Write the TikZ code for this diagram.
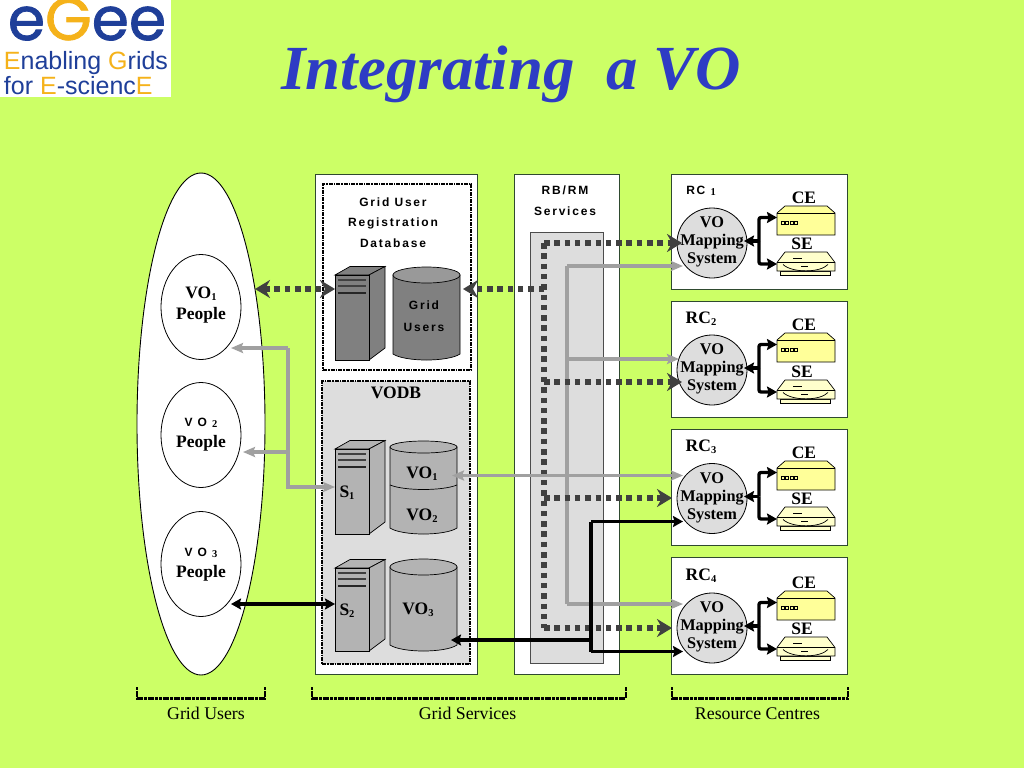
\documentclass[tikz,border=0pt]{standalone}
\usepackage{fontspec}
\setmainfont{Liberation Serif}
\newfontfamily\spc[LetterSpace=15]{Liberation Sans}
\newfontfamily\logo[FakeBold=1.3]{Poppins}
\newfontfamily\lsans{Liberation Sans}
\usetikzlibrary{arrows.meta,shapes.geometric}
\definecolor{bgc}{HTML}{CCFF66}
\definecolor{titlec}{HTML}{2E3CC4}
\definecolor{boxedge}{HTML}{2F4A2F}
\definecolor{panel}{HTML}{DDDDDD}
\definecolor{darkd}{HTML}{404040}
\definecolor{grayl}{HTML}{A0A0A0}
\definecolor{darkf}{HTML}{808080}
\definecolor{lightf}{HTML}{B3B3B3}
\definecolor{logob}{HTML}{1F3F99}
\definecolor{logoo}{HTML}{F5B21A}
\definecolor{cef}{HTML}{FFFF99}
\definecolor{sef}{HTML}{FFFFCC}
\newcommand{\sbb}[1]{\raisebox{-0.25ex}{\fontsize{10.5}{10.5}\selectfont #1}}
\tikzset{
  x=1pt,y=-1pt,
  txt/.style={inner sep=0pt,outer sep=0pt,align=center},
  bt/.style={txt,font=\fontsize{17.5}{21}\selectfont\bfseries},
  st/.style={txt,font=\fontsize{12}{14}\selectfont\spc\bfseries},
  ct/.style={txt,font=\fontsize{17.8}{20}\selectfont},
  mapt/.style={txt,font=\fontsize{16.3}{18}\selectfont\bfseries},
  outer/.style={draw=boxedge,fill=white,line width=0.9pt},
  dotbox/.style={draw=black,line width=2.2pt,dash pattern=on 4pt off 1pt on 1.5pt off 1pt},
  thin edge/.style={draw=black,line width=0.7pt},
  darktip/.tip={Stealth[length=15pt,width=18pt,inset=5pt]},
  graytip/.tip={Stealth[length=12pt,width=10pt,inset=2pt]},
  blacktip/.tip={Stealth[length=10pt,width=11pt,inset=1.5pt]},
  dashl/.style={draw=darkd,line width=5.5pt,dash pattern=on 5.5pt off 4.8pt},
  grayw/.style={draw=grayl,line width=3.5pt},
  blackw/.style={draw=black,line width=3.3pt},
}
% name, x, y (front top-left), fill
\newcommand{\serverbox}[5]{%
  \fill[#4,thin edge] (#2,#3) -- (#2+15,#3-8.5) -- (#2+50,#3-8.5) -- (#2+34,#3) -- cycle;
  \fill[#4,thin edge] (#2+34,#3) -- (#2+50,#3-8.5) -- (#2+50,#3+#5-12) -- (#2+34,#3+#5) -- cycle;
  \node[thin edge,fill=#4,minimum width=34pt,minimum height=#5 pt,inner sep=0pt,outer sep=0pt,anchor=north west] (#1) at (#2,#3) {};
  \fill[black!75] (#2+3,#3+4) rectangle (#2+31,#3+6);
  \fill[black!75] (#2+3,#3+10) rectangle (#2+31,#3+12);
  \fill[black!85] (#2+3,#3+17) rectangle (#2+31,#3+19);
}
% left, right, top centre y, bottom y, ry, fill, top fill
\newcommand{\cylshape}[7]{%
  \path[thin edge,fill=#6] (#1,#3) -- (#1,#4-6) .. controls (#1+12,#4+2) and (#2-12,#4+2) .. (#2,#4-6) -- (#2,#3) -- cycle;
  \path[thin edge,fill=#7] ({(#1+#2)/2},#3) ellipse [x radius={(#2-#1)/2},y radius=#5];
}
% id, box top, box bottom, circle y, CE top, SE top
\newcommand{\rcunit}[6]{%
  \node[outer,minimum width=176pt,minimum height={#3-#2},inner sep=0pt,outer sep=0pt,anchor=north west] (rc#1) at (671,#2) {};
  \node[circle,draw=black,line width=0.8pt,fill=panel,minimum size=70pt,inner sep=0pt,outer sep=0pt] (map#1) at (712,#4) {};
  \node[mapt] (mapt#1) at (712,#4-1) {VO\\Mapping\\System};
  % CE
  \path[thin edge,fill=cef] (785,#5) -- (827,#5) -- (835,#5+7) -- (835,#5+29) -- (777,#5+29) -- (777,#5+7) -- cycle;
  \draw[line width=0.7pt] (777,#5+7) -- (835,#5+7);
  \foreach \k in {0,1,2,3} {\draw[line width=0.7pt,fill=cef] (781.5+\k*4.2,#5+15.5) rectangle +(3,3);}
  \node[bt,font=\fontsize{17.5}{18}\selectfont\bfseries] (ce#1) at (804,#5-8) {CE};
  % SE
  \path[thin edge,fill=sef] (780,#6+19) rectangle (830,#6+23);
  \path[thin edge,fill=sef] (785,#6) -- (827,#6) -- (835,#6+10.5) -- (835,#6+19) -- (777,#6+19) -- (777,#6+10.5) -- cycle;
  \draw[line width=0.7pt] (777,#6+10.5) -- (835,#6+10.5);
  \draw[line width=0.7pt] (783,#6+12.5) .. controls (792,#6+21) and (820,#6+21) .. (828,#6+12.5);
  \draw[line width=1.4pt] (801,#6+14.5) -- (808,#6+14.5);
  \draw[line width=0.5pt] (793,#6+6) -- (802,#6+6);
  \node[bt,font=\fontsize{17.5}{18}\selectfont\bfseries] (se#1) at (802,#6-8) {SE};
  % links
  \coordinate (j#1) at (759,#4-2);
  \coordinate (cep#1) at (777,#5+11.5);
  \coordinate (sep#1) at (777,#6+12);
  \coordinate (mapin#1) at (744,#4-2);
  \draw[blackw,-{blacktip}] (j#1) -- (mapin#1);
  \draw[blackw,-{blacktip},rounded corners=2pt] (j#1) |- (cep#1);
  \draw[blackw,-{blacktip},rounded corners=2pt] (j#1) |- (sep#1);
}
\begin{document}
\begin{tikzpicture}
\useasboundingbox (0,0) rectangle (1024,768);
\fill[bgc] (0,0) rectangle (1024,768);
% logo
\fill[white] (0,0) rectangle (171,97);
\node[txt,font=\fontsize{60}{60}\selectfont\logo,text=logob,anchor=base] (legee) at (87,40) {e\textcolor{logoo}{G}ee};
\node[txt,font=\fontsize{25}{25}\selectfont\lsans,text=logob,anchor=base west] (l1) at (4,70) {\textcolor{logoo}{E}nabling \textcolor{logoo}{G}rids};
\node[txt,font=\fontsize{25}{25}\selectfont\lsans,text=logob,anchor=base west] (l2) at (4,94) {for \textcolor{logoo}{E}-scienc\textcolor{logoo}{E}};
% title
\node[txt,font=\fontsize{62.8}{62.8}\selectfont\bfseries\itshape,text=titlec] (title) at (511,74.5) {Integrating\ \ a VO};
% grid users
\node[ellipse,draw=black,line width=0.9pt,fill=white,minimum width=128pt,minimum height=502pt,inner sep=0pt,outer sep=0pt] (users) at (201,424) {};
\foreach \n/\y in {1/307,2/435,3/564} {\node[ellipse,draw=black,line width=0.8pt,fill=white,minimum width=80pt,minimum height=105pt,inner sep=0pt,outer sep=0pt] (p\n) at (201,\y) {};}
\node[bt] (vo1p) at (201,305.5) {VO\sbb{1}\\People};
\node[txt,font=\fontsize{12}{14}\selectfont\spc\bfseries] (vo2l) at (201,423) {V O \sbb{\rmfamily 2}};
\node[bt] (vo2p) at (201,443.5) {People};
\node[txt,font=\fontsize{12}{14}\selectfont\spc\bfseries] (vo3l) at (201,553) {V O \sbb{\rmfamily 3}};
\node[bt] (vo3p) at (201,573.5) {People};
% grid services
\node[outer,minimum width=162pt,minimum height=500pt,inner sep=0pt,outer sep=0pt,anchor=north west] (gs) at (315,174) {};
\node[dotbox,fill=white,minimum width=148pt,minimum height=186pt,inner sep=0pt,outer sep=0pt,anchor=north west] (gur) at (323,184) {};
\node[dotbox,fill=panel,minimum width=148pt,minimum height=283pt,inner sep=0pt,outer sep=0pt,anchor=north west] (vodb) at (322,381) {};
\node[st] (gurt) at (393,222.5) {Grid User\\[6.5pt]Registration\\[6.5pt]Database};
\node[bt] (vodbt) at (396,392.5) {VODB};
\serverbox{srvg}{335}{275}{darkf}{85}
\cylshape{393}{460}{275}{360}{8}{darkf}{black!40}
\node[st] (gut) at (424,316) {Grid\\[8pt]Users};
\serverbox{srva}{335}{449}{lightf}{85}
\cylshape{390}{457}{447}{534}{6}{lightf}{lightf}
\draw[line width=0.7pt] (390,485) .. controls (405,491) and (442,491) .. (457,485);
\node[bt] (s1) at (347,492.5) {S\sbb{1}};
\node[bt] (vo1) at (422,474) {VO\sbb{1}};
\node[bt] (vo2) at (422,516) {VO\sbb{2}};
\serverbox{srvb}{335}{568}{lightf}{83}
\cylshape{390}{457}{567}{651}{8}{lightf}{lightf}
\node[bt] (s2) at (347,610.5) {S\sbb{2}};
\node[bt] (vo3) at (418,610) {VO\sbb{3}};
% RB/RM
\node[outer,minimum width=105pt,minimum height=500pt,inner sep=0pt,outer sep=0pt,anchor=north west] (rb) at (514,174) {};
\node[draw=black!70,line width=0.7pt,fill=panel,minimum width=73pt,minimum height=431pt,inner sep=0pt,outer sep=0pt,anchor=north west] (rbi) at (530,232) {};
\node[st] (rbt) at (565,200.5) {RB/RM\\[6.5pt]Services};
% resource centres
\rcunit{1}{174}{289}{243}{206}{252}
\rcunit{2}{301}{417}{370}{333}{380}
\rcunit{3}{429}{545}{498.5}{461}{507}
\rcunit{4}{557}{674}{628}{591}{637}
\node[st] (rc1t) at (701,191) {RC \sbb{\rmfamily 1}};
\node[bt] (rc2t) at (701,319) {RC\sbb{2}};
\node[bt] (rc3t) at (701,447) {RC\sbb{3}};
\node[bt] (rc4t) at (701,576) {RC\sbb{4}};
% ports
\coordinate (ug) at (255,289);
\coordinate (sg) at (335,289);
\coordinate (gu) at (463,289);
\coordinate (d0) at (544,243);
\coordinate (d1) at (544,289);
\coordinate (d2) at (544,382);
\coordinate (d3) at (544,498);
\coordinate (d4) at (544,628);
\coordinate (m1d) at (682,243);
\coordinate (m2d) at (682,382);
\coordinate (m3d) at (672,498);
\coordinate (m4d) at (672,628);
\coordinate (g0) at (567,266);
\coordinate (g1) at (567,359);
\coordinate (g2) at (567,604);
\coordinate (m1g) at (683,266);
\coordinate (m2g) at (679,359);
\coordinate (m4g) at (683,604);
\coordinate (vo1p1) at (452,475.5);
\coordinate (m3g) at (683,475.5);
\coordinate (u1) at (231,348);
\coordinate (u2) at (243,452);
\coordinate (h1) at (288,348);
\coordinate (h2) at (288,452);
\coordinate (h3) at (288,487);
\coordinate (s1p) at (335,487);
\coordinate (u3) at (231,604);
\coordinate (s2p) at (335,604);
\coordinate (b1) at (591,521.5);
\coordinate (b2) at (591,640);
\coordinate (b3) at (591,651.5);
\coordinate (m3b) at (683,521.5);
\coordinate (m4b) at (683,651.5);
\coordinate (vo3p) at (451,640);
% gray lines
\draw[grayw] (g0) -- (g2);
\draw[grayw,-{graytip}] (g0) -- (m1g);
\draw[grayw,-{graytip}] (g1) -- (m2g);
\draw[grayw,-{graytip}] (g2) -- (m4g);
\draw[grayw,-{graytip}] (h1) -- (u1);
\draw[grayw,-{graytip}] (h2) -- (u2);
\draw[grayw,-{graytip}] (h1) |- (s1p);
% dashed lines
\draw[dashl] (d0) -- (d4);
\draw[dashl,{darktip}-{darktip}] (ug) -- (sg);
\draw[dashl,-{darktip}] (d1) -- (gu);
\draw[dashl,-{darktip}] (d0) -- (m1d);
\draw[dashl,-{darktip}] (d2) -- (m2d);
\draw[dashl,-{darktip}] (d3) -- (m3d);
\draw[dashl,-{darktip}] (d4) -- (m4d);
% VO1 gray
\draw[grayw,{graytip}-{graytip}] (vo1p1) -- (m3g);
% black lines
\draw[blackw,{blacktip}-{blacktip}] (u3) -- (s2p);
\draw[blackw] (b1) -- (b3);
\draw[blackw,-{blacktip}] (b1) -- (m3b);
\draw[blackw,-{blacktip}] (b3) -- (m4b);
\draw[blackw,-{blacktip}] (b2) -- (vo3p);
% brackets
\draw[dotbox,dash pattern=on 3pt off 0.7pt] (137,687) -- (137,698.5) -- (265,698.5) -- (265,687);
\draw[dotbox,dash pattern=on 3pt off 0.7pt] (312,687) -- (312,698.5) -- (626,698.5) -- (626,687);
\draw[dotbox,dash pattern=on 3pt off 0.7pt] (672,687) -- (672,698.5) -- (848,698.5) -- (848,687);
\node[ct] (lu) at (206,713.5) {Grid Users};
\node[ct] (ls) at (467.5,713.5) {Grid Services};
\node[ct] (lr) at (757.5,713.5) {Resource Centres};
\end{tikzpicture}
\end{document}
